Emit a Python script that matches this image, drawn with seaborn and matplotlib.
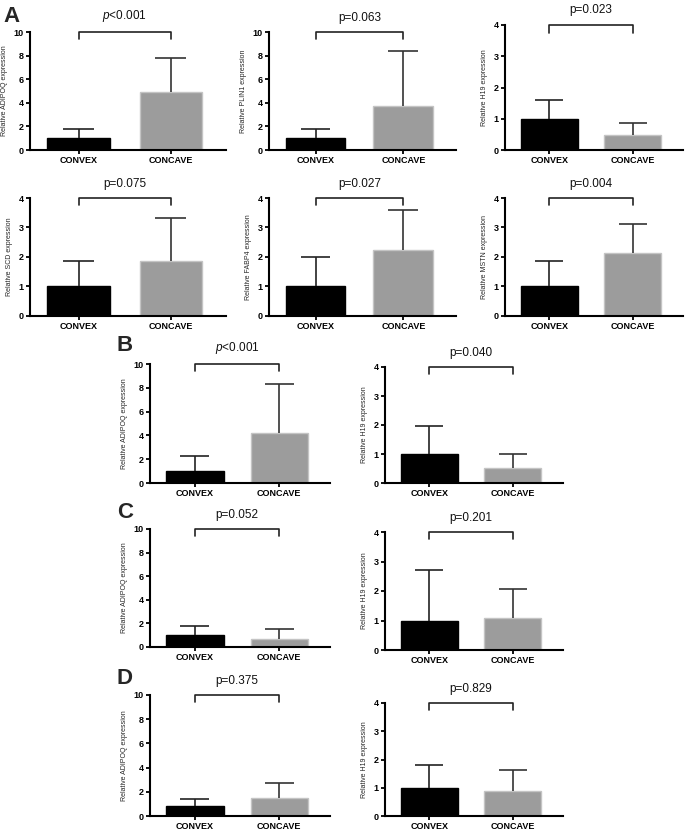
import matplotlib
matplotlib.use('Agg')
import matplotlib.pyplot as plt
import seaborn as sns
import pandas as pd

# ------------------------
# Data
# ------------------------

groups = ['CONVEX', 'CONCAVE']
genes = ['ADIPOQ', 'PLIN1', 'H19', 'SCD', 'FABP4', 'MSTN',
         'ADIPOQ', 'H19', 'ADIPOQ', 'H19', 'ADIPOQ', 'H19']
convex_mean = [1.0, 1.0, 1.0, 1.0, 1.0, 1.0, 1.0, 1.0, 1.0, 1.0, 0.82, 1.0]
convex_sd = [0.8, 0.8, 0.6, 0.87, 1.0, 0.88, 1.3, 0.95, 0.8, 1.7, 0.58, 0.8]
concave_mean = [4.9, 3.7, 0.48, 1.88, 2.23, 2.13, 4.2, 0.53, 0.7, 1.08, 1.45, 0.88]
concave_sd = [2.9, 4.7, 0.4, 1.45, 1.37, 0.99, 4.1, 0.47, 0.8, 1.0, 1.25, 0.75]
p_labels = ['$p$<0.001', 'p=0.063', 'p=0.023', 'p=0.075', 'p=0.027', 'p=0.004',
            '$p$<0.001', 'p=0.040', 'p=0.052', 'p=0.201', 'p=0.375', 'p=0.829']
y_top = [10, 10, 4, 4, 4, 4, 10, 4, 10, 4, 10, 4]
y_step = [2, 2, 1, 1, 1, 1, 2, 1, 2, 1, 2, 1]
panel_letters = ['A', 'B', 'C', 'D']

# axes boxes in pixels: x0, y0 (top), x1, y1 (bottom)
W, H = 685, 831
boxes = [(30, 32, 226, 150), (269, 32, 456, 150), (505, 25, 683, 150),
         (30, 198, 226, 316), (269, 198, 456, 316), (505, 198, 683, 316),
         (150, 364, 330, 483), (385, 367, 563, 483),
         (150, 529, 330, 647), (385, 532, 563, 650),
         (150, 695, 330, 816), (385, 703, 563, 816)]
letter_pos = [(3, 22), (117, 351), (117, 518), (117, 684)]

# ------------------------
# Style
# ------------------------

sns.set_style('ticks')
plt.rcParams['font.family'] = ['Liberation Sans', 'DejaVu Sans']
plt.rcParams['mathtext.fontset'] = 'custom'
plt.rcParams['mathtext.it'] = 'Liberation Sans:italic'
plt.rcParams['mathtext.rm'] = 'Liberation Sans'

bar_colors = ['#000000', '#9c9c9c']
edge_colors = ['#000000', '#c4c4c4']
err_colors = ['#222222', '#333333']


def draw_panel(ax, i):
    df = pd.DataFrame({'group': groups,
                       'value': [convex_mean[i], concave_mean[i]]})
    sns.barplot(data=df, x='group', y='value', hue='group', palette=bar_colors,
                order=groups, width=0.68, errorbar=None, legend=False, ax=ax)
    for k, patch in enumerate(ax.patches):
        patch.set_edgecolor(edge_colors[k])
        patch.set_linewidth(1.0)

    means = [convex_mean[i], concave_mean[i]]
    sds = [convex_sd[i], concave_sd[i]]
    for k in range(2):
        ax.vlines(k, means[k], means[k] + sds[k], color=err_colors[k], lw=1.2, zorder=3)
        ax.hlines(means[k] + sds[k], k - 0.17, k + 0.17, color=err_colors[k], lw=1.2, zorder=3)

    top = y_top[i]
    ax.set_ylim(0, top)
    ax.set_xlim(-0.53, 1.6)
    ax.set_yticks(range(0, top + 1, y_step[i]))
    ax.set_yticklabels([str(t) for t in range(0, top + 1, y_step[i])],
                       fontsize=6.5, fontweight='bold')
    ax.set_xticks([0, 1])
    ax.set_xticklabels(groups, fontsize=6.5, fontweight='bold')
    ax.tick_params(axis='both', length=3, width=1.3, pad=1.5, colors='black')
    ax.set_xlabel('')
    ax.set_ylabel(f'Relative {genes[i]} expression', fontsize=5, labelpad=4)
    for s in ['left', 'bottom']:
        ax.spines[s].set_linewidth(1.5)
        ax.spines[s].set_color('black')
    sns.despine(ax=ax)

    # significance bracket
    low = top * 0.94
    ax.plot([0, 0, 1, 1], [low, top, top, low], color='#222222', lw=1.2,
            clip_on=False, zorder=4)
    ax.text(0.5, top * 1.07, p_labels[i], ha='center', va='bottom',
            fontsize=8.5, color='#111111', clip_on=False)


fig = plt.figure(figsize=(W / 100, H / 100), dpi=100)
for i, (x0, y0, x1, y1) in enumerate(boxes):
    ax = fig.add_axes([x0 / W, 1 - y1 / H, (x1 - x0) / W, (y1 - y0) / H])
    draw_panel(ax, i)

for letter, (lx, ly) in zip(panel_letters, letter_pos):
    fig.text(lx / W, 1 - ly / H, letter, fontsize=16, fontweight='bold',
             ha='left', va='baseline')

fig.savefig('out.png', dpi=100)
